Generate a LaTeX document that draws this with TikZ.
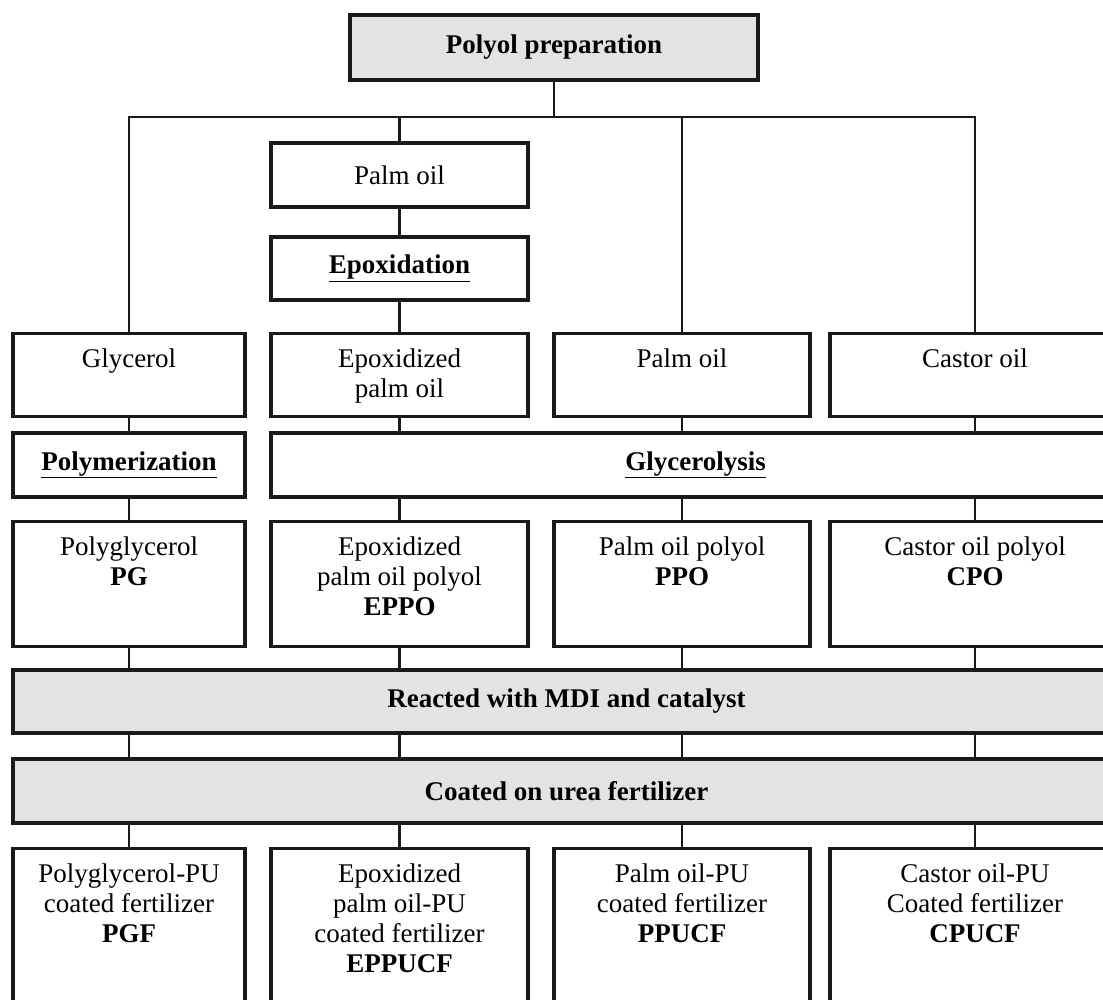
\documentclass[tikz,border=0pt]{standalone}
\usepackage{fontspec}
\setmainfont{Liberation Serif}
\usepackage{xcolor}
\usepackage{tikz}
\definecolor{ink}{HTML}{1A1A1A}
\definecolor{shade}{HTML}{E3E3E3}
\newcommand{\topcell}[3]{\parbox[t][#2][t]{#1}{\centering\strut #3}}
\tikzset{
  box/.style={draw=ink, line width=3.2pt, inner xsep=0pt, inner ysep=13pt, font=\fontsize{27}{30}\selectfont},
  cell/.style={box, anchor=north},
  stage/.style={box, inner ysep=0pt, font=\fontsize{27}{30}\selectfont\bfseries},
  grey/.style={fill=shade},
  link/.style={draw=ink, line width=2.6pt},
}

\begin{document}
\begin{tikzpicture}[x=1pt,y=-1pt]
  \useasboundingbox (0,0) rectangle (1103,1000);
  \clip (0,0) rectangle (1103,1000);
  % column centres
  \def\xa{129} \def\xb{399.5} \def\xc{682} \def\xd{975}
  % top
  \node[stage, grey, minimum width=408pt, minimum height=65pt] (prep) at (554,47.5) {Polyol preparation};
  \coordinate (busL) at (\xa,117);
  \coordinate (busR) at (\xd,117);
  % epoxidation branch
  \node[box, inner ysep=0pt, minimum width=257pt, minimum height=64pt] (palmA) at (\xb,175) {Palm oil};
  \node[stage, minimum width=257pt, minimum height=63pt] (epox) at (\xb,268.5) {\underline{Epoxidation}};
  % raw materials
  \node[cell] (glyc) at (\xa,332) {\topcell{232pt}{57pt}{Glycerol}};
  \node[cell] (epalm) at (\xb,332) {\topcell{257pt}{57pt}{Epoxidized\\palm oil}};
  \node[cell] (palm) at (\xc,332) {\topcell{256pt}{57pt}{Palm oil}};
  \node[cell] (castor) at (\xd,332) {\topcell{290pt}{57pt}{Castor oil}};
  % processes
  \node[stage, minimum width=232pt, minimum height=64pt] (polym) at (\xa,465) {\underline{Polymerization}};
  \node[stage, minimum width=849pt, minimum height=64pt] (glycer) at (695.5,465) {\underline{Glycerolysis}};
  % polyols
  \node[cell] (pg) at (\xa,520) {\topcell{232pt}{99pt}{Polyglycerol\\\textbf{PG}}};
  \node[cell] (eppo) at (\xb,520) {\topcell{257pt}{99pt}{Epoxidized\\palm oil polyol\\\textbf{EPPO}}};
  \node[cell] (ppo) at (\xc,520) {\topcell{256pt}{99pt}{Palm oil polyol\\\textbf{PPO}}};
  \node[cell] (cpo) at (\xd,520) {\topcell{290pt}{99pt}{Castor oil polyol\\\textbf{CPO}}};
  % coating steps
  \node[stage, grey, minimum width=1107pt, minimum height=63pt] (react) at (566.5,701.5) {Reacted with MDI and catalyst};
  \node[stage, grey, minimum width=1107pt, minimum height=64pt] (coat) at (566.5,791) {Coated on urea fertilizer};
  % products
  \node[cell] (pgf) at (\xa,847) {\topcell{232pt}{147pt}{Polyglycerol-PU\\coated fertilizer\\\textbf{PGF}}};
  \node[cell] (eppucf) at (\xb,847) {\topcell{257pt}{147pt}{Epoxidized\\palm oil-PU\\coated fertilizer\\\textbf{EPPUCF}}};
  \node[cell] (ppucf) at (\xc,847) {\topcell{256pt}{147pt}{Palm oil-PU\\coated fertilizer\\\textbf{PPUCF}}};
  \node[cell] (cpucf) at (\xd,847) {\topcell{290pt}{147pt}{Castor oil-PU\\Coated fertilizer\\\textbf{CPUCF}}};
  % connectors
  \draw[link] (prep.south) -- (prep.south |- busL);
  \draw[link] (glyc.north) -- (busL) -- (busR) -- (castor.north);
  \draw[link] (palmA.north) -- (palmA.north |- busL);
  \draw[link] (palm.north) -- (palm.north |- busL);
  \draw[link] (palmA) -- (epox);
  \draw[link] (epox) -- (epalm);
  \draw[link] (glyc) -- (polym);
  \draw[link] (polym) -- (pg);
  \draw[link] (epalm.south) -- (epalm.south |- glycer.north);
  \draw[link] (palm.south) -- (palm.south |- glycer.north);
  \draw[link] (castor.south) -- (castor.south |- glycer.north);
  \draw[link] (eppo.north |- glycer.south) -- (eppo.north);
  \draw[link] (ppo.north |- glycer.south) -- (ppo.north);
  \draw[link] (cpo.north |- glycer.south) -- (cpo.north);
  \draw[link] (pg.south) -- (pg.south |- react.north);
  \draw[link] (eppo.south) -- (eppo.south |- react.north);
  \draw[link] (ppo.south) -- (ppo.south |- react.north);
  \draw[link] (cpo.south) -- (cpo.south |- react.north);
  \draw[link] (pg.south |- react.south) -- (pg.south |- coat.north);
  \draw[link] (eppo.south |- react.south) -- (eppo.south |- coat.north);
  \draw[link] (ppo.south |- react.south) -- (ppo.south |- coat.north);
  \draw[link] (cpo.south |- react.south) -- (cpo.south |- coat.north);
  \draw[link] (pgf.north |- coat.south) -- (pgf.north);
  \draw[link] (eppucf.north |- coat.south) -- (eppucf.north);
  \draw[link] (ppucf.north |- coat.south) -- (ppucf.north);
  \draw[link] (cpucf.north |- coat.south) -- (cpucf.north);
\end{tikzpicture}
\end{document}
